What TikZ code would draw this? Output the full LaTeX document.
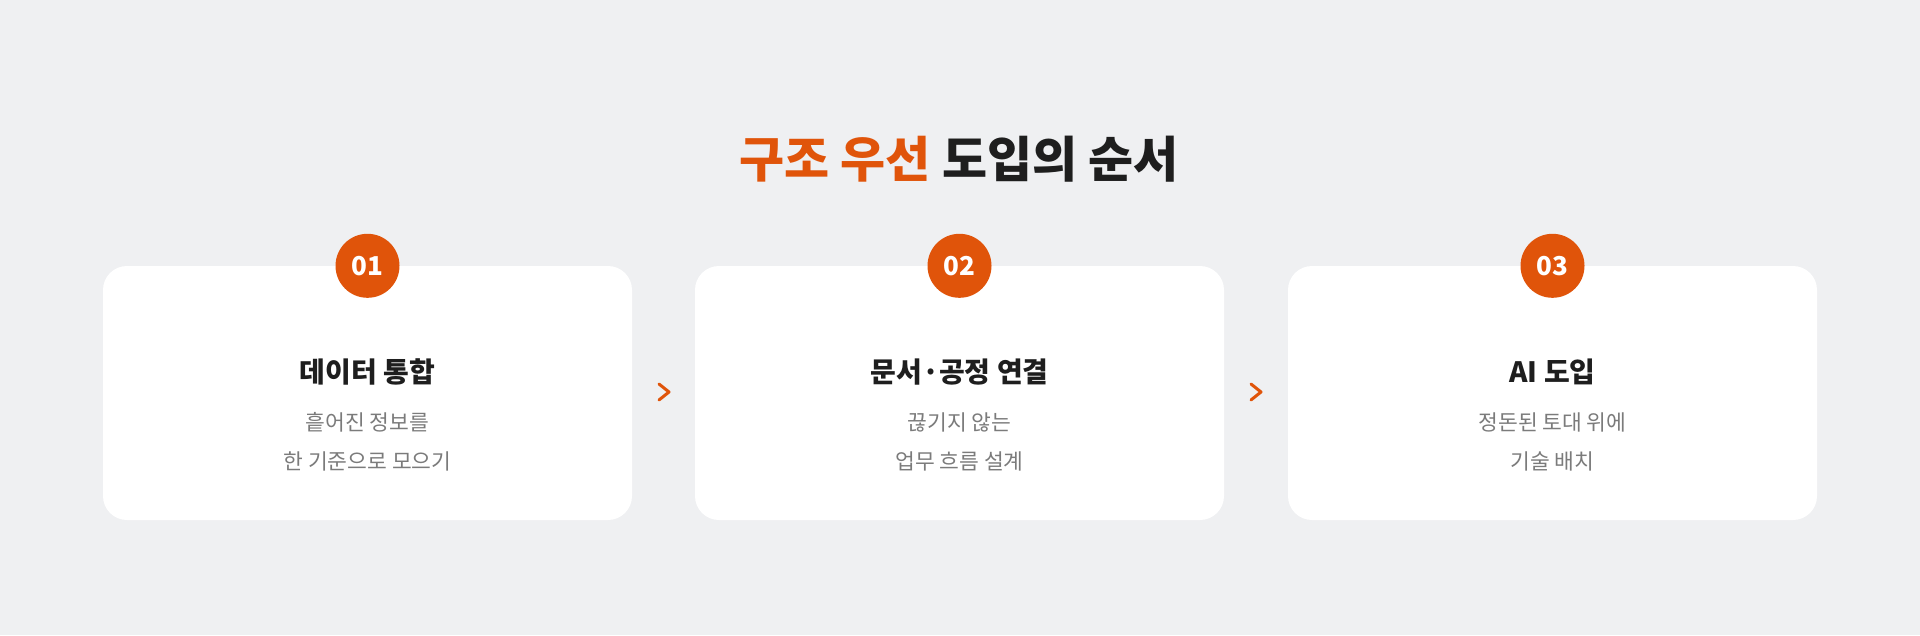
\documentclass[tikz,border=0pt]{standalone}
\usepackage{fontspec}
\setmainfont{Noto Sans CJK KR}
\definecolor{bg}{HTML}{EFF0F2}
\definecolor{accent}{HTML}{E0540A}
\definecolor{ink}{HTML}{1E1E1E}
\definecolor{muted}{HTML}{7B7B7B}
\tikzset{
  card/.style={fill=white, rounded corners=24pt, minimum width=529pt, minimum height=254pt, inner sep=0pt, draw=none},
  badge/.style={circle, fill=accent, minimum size=64pt, inner sep=0pt, text=white, font=\bfseries\fontsize{26}{26}\selectfont},
  cardtitle/.style={text=ink, inner sep=0pt, font=\bfseries\fontsize{28}{28}\selectfont},
  cardsub/.style={text=muted, inner sep=0pt, align=center, font=\fontsize{21.5}{39}\selectfont},
  chev/.style={draw=accent, line width=3pt, line cap=round, line join=round},
  headline/.style={inner sep=0pt, font=\bfseries\fontsize{49}{49}\selectfont}
}
\begin{document}
\begin{tikzpicture}[x=1pt,y=-1pt]
\fill[bg] (0,0) rectangle (1920,635);
\useasboundingbox (0,0) rectangle (1920,635);

\node[headline] (title) at (959,159) {\textcolor{accent}{구조 우선} \textcolor{ink}{도입의 순서}};

\node[card] (c1) at (367.5,393) {};
\node[card] (c2) at (959.5,393) {};
\node[card] (c3) at (1552.5,393) {};

\node[badge] (b1) at (c1.north) {01};
\node[badge] (b2) at (c2.north) {02};
\node[badge] (b3) at (c3.north) {03};

\node[cardtitle] (t1) at (367.5,372) {데이터 통합};
\node[cardtitle] (t2) at (959.5,372) {문서·공정 연결};
\node[cardtitle] (t3) at (1552.5,372) {AI 도입};

\node[cardsub] (s1) at (367.5,442) {흩어진 정보를\\한 기준으로 모으기};
\node[cardsub] (s2) at (959.5,442) {끊기지 않는\\업무 흐름 설계};
\node[cardsub] (s3) at (1552.5,442) {정돈된 토대 위에\\기술 배치};

\coordinate (k1) at (664,392);
\coordinate (k2) at (1256,392);
\foreach \k in {k1,k2}{
  \draw[chev] ([shift={(-5,-8)}]\k) -- ([shift={(5,0)}]\k) -- ([shift={(-5,8)}]\k);
}
\end{tikzpicture}
\end{document}
